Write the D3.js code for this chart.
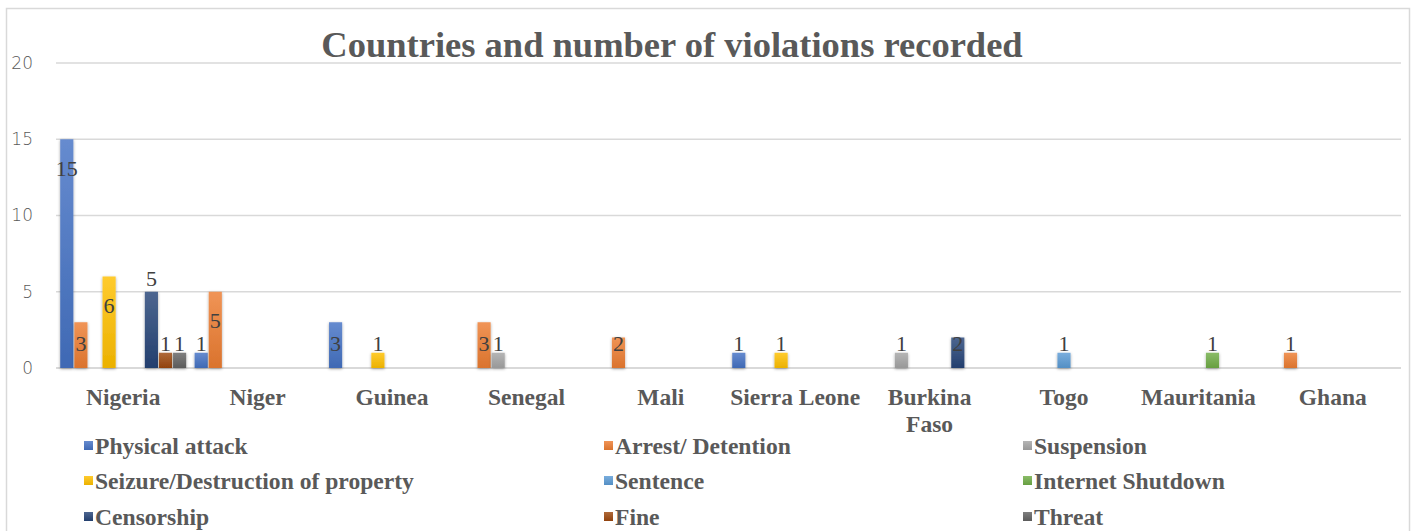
<!DOCTYPE html>
<html><head><meta charset="utf-8">
<script src="https://cdn.jsdelivr.net/npm/d3@7"></script>
<style>body{margin:0;background:#fff}svg{display:block}</style>
</head><body><svg id="c" width="1420" height="531"></svg>
<script>
const countries = ["Nigeria","Niger","Guinea","Senegal","Mali","Sierra Leone","Burkina Faso","Togo","Mauritania","Ghana"];
const series = ["Physical attack","Arrest/ Detention","Suspension","Seizure/Destruction of property","Sentence","Internet Shutdown","Censorship","Fine","Threat"];
const colors = ["#4472C4","#ED7D31","#A5A5A5","#FFC000","#5B9BD5","#70AD47","#264478","#9E480E","#636363"];
// values[series][country]
const physicalAttack = [15,1,3,0,0,1,0,0,0,0];
const arrestDetention = [3,5,0,3,2,0,0,0,0,1];
const suspension     = [0,0,0,1,0,0,1,0,0,0];
const seizure        = [6,0,1,0,0,1,0,0,0,0];
const sentence       = [0,0,0,0,0,0,0,1,0,0];
const internetShutdown=[0,0,0,0,0,0,0,0,1,0];
const censorship     = [5,0,0,0,0,0,2,0,0,0];
const fine           = [1,0,0,0,0,0,0,0,0,0];
const threat         = [1,0,0,0,0,0,0,0,0,0];
const values = [physicalAttack,arrestDetention,suspension,seizure,sentence,internetShutdown,censorship,fine,threat];
const yTicks = [0,5,10,15,20];
const title = "Countries and number of violations recorded";
const labelAboveExceptions = [["Nigeria","Censorship"]];

const svg = d3.select("#c");
const grey = "#595959";
const defs = svg.append("defs");
colors.forEach((c,i)=>{
  const g = defs.append("linearGradient").attr("id","g"+i).attr("x1",0).attr("y1",0).attr("x2",0).attr("y2",1);
  g.append("stop").attr("offset","0%").attr("stop-color",d3.interpolateRgb(c,"#fff")(0.18));
  g.append("stop").attr("offset","100%").attr("stop-color",d3.interpolateRgb(c,"#000")(0.08));
});
const f = defs.append("filter").attr("id","sh").attr("x","-30%").attr("y","-10%").attr("width","160%").attr("height","130%");
f.append("feDropShadow").attr("dx",0).attr("dy",1).attr("stdDeviation",1.6).attr("flood-color","#000").attr("flood-opacity",0.35);

// outer border
svg.append("rect").attr("x",6.5).attr("y",8.5).attr("width",1403).attr("height",540).attr("fill","none").attr("stroke","#d9d9d9").attr("stroke-width",1.5);

const x0 = d3.scaleBand().domain(countries).range([56,1400]).paddingInner(0).paddingOuter(0);
const x1 = d3.scaleBand().domain(series).range([0,x0.bandwidth()]).paddingInner(0.07).paddingOuter(0.3);
const y = d3.scaleLinear().domain([0,20]).range([368,63]);

// gridlines
svg.append("g").selectAll("line").data(yTicks).join("line")
  .attr("x1",56).attr("x2",1401).attr("y1",d=>y(d)).attr("y2",d=>y(d))
  .attr("stroke","#d9d9d9").attr("stroke-width",d=>d===0?2:1.5);

// y axis labels
svg.append("g").selectAll("text").data(yTicks).join("text")
  .attr("x",33).attr("y",d=>y(d)).attr("dy","0.35em").attr("text-anchor","end")
  .attr("font-family","'DejaVu Sans', sans-serif").attr("font-weight",300).attr("font-size",17).attr("fill",grey)
  .text(d=>d);

// title
svg.append("text").attr("x",672).attr("y",57).attr("text-anchor","middle")
  .attr("font-family","'Liberation Serif', serif").attr("font-weight","bold").attr("font-size",36.5).attr("fill",grey)
  .text(title);

// bars
const pts = [];
series.forEach((s,si)=>countries.forEach((c,ci)=>{ const v=values[si][ci]; if(v>0) pts.push({s,si,c,v}); }));
svg.append("g").selectAll("rect").data(pts).join("rect")
  .attr("x",d=>x0(d.c)+x1(d.s)).attr("width",x1.bandwidth())
  .attr("y",d=>y(d.v)).attr("height",d=>y(0)-y(d.v))
  .attr("fill",d=>`url(#g${d.si})`).attr("filter","url(#sh)");

// data labels
const isAbove = d => labelAboveExceptions.some(e=>e[0]===d.c&&e[1]===d.s);
svg.append("g").selectAll("text").data(pts).join("text")
  .attr("x",d=>x0(d.c)+x1(d.s)+x1.bandwidth()/2)
  .attr("y",d=> isAbove(d) ? y(d.v)-13 : (d.v>=4 ? y(d.v)+29 : y(1.64)))
  .attr("dy","0.35em").attr("text-anchor","middle")
  .attr("font-family","'Liberation Serif', serif").attr("font-size",22).attr("fill","#404040")
  .text(d=>d.v);

// category labels
const cat = svg.append("g").selectAll("text").data(countries).join("text")
  .attr("x",d=>x0(d)+x0.bandwidth()/2).attr("y",397).attr("text-anchor","middle")
  .attr("font-family","'Liberation Serif', serif").attr("font-weight","bold").attr("font-size",23.5).attr("fill",grey);
cat.each(function(d){
  const parts = d==="Burkina Faso" ? ["Burkina","Faso"] : [d];
  const t = d3.select(this);
  parts.forEach((p,i)=>t.append("tspan").attr("x",x0(d)+x0.bandwidth()/2).attr("dy",i===0?"0.35em":"1.15em").text(p));
});

// legend
const colX = [84,604,1023];
const rowY = [446,481,517];
const lg = svg.append("g").selectAll("g").data(series).join("g")
  .attr("transform",(d,i)=>`translate(${colX[i%3]},${rowY[Math.floor(i/3)]})`);
lg.append("rect").attr("x",0).attr("y",-5).attr("width",9).attr("height",9).attr("fill",(d,i)=>`url(#g${i})`);
lg.append("text").attr("x",11).attr("y",0).attr("dy","0.35em")
  .attr("font-family","'Liberation Serif', serif").attr("font-weight","bold").attr("font-size",23.6).attr("fill",grey)
  .text(d=>d);
</script></body></html>
